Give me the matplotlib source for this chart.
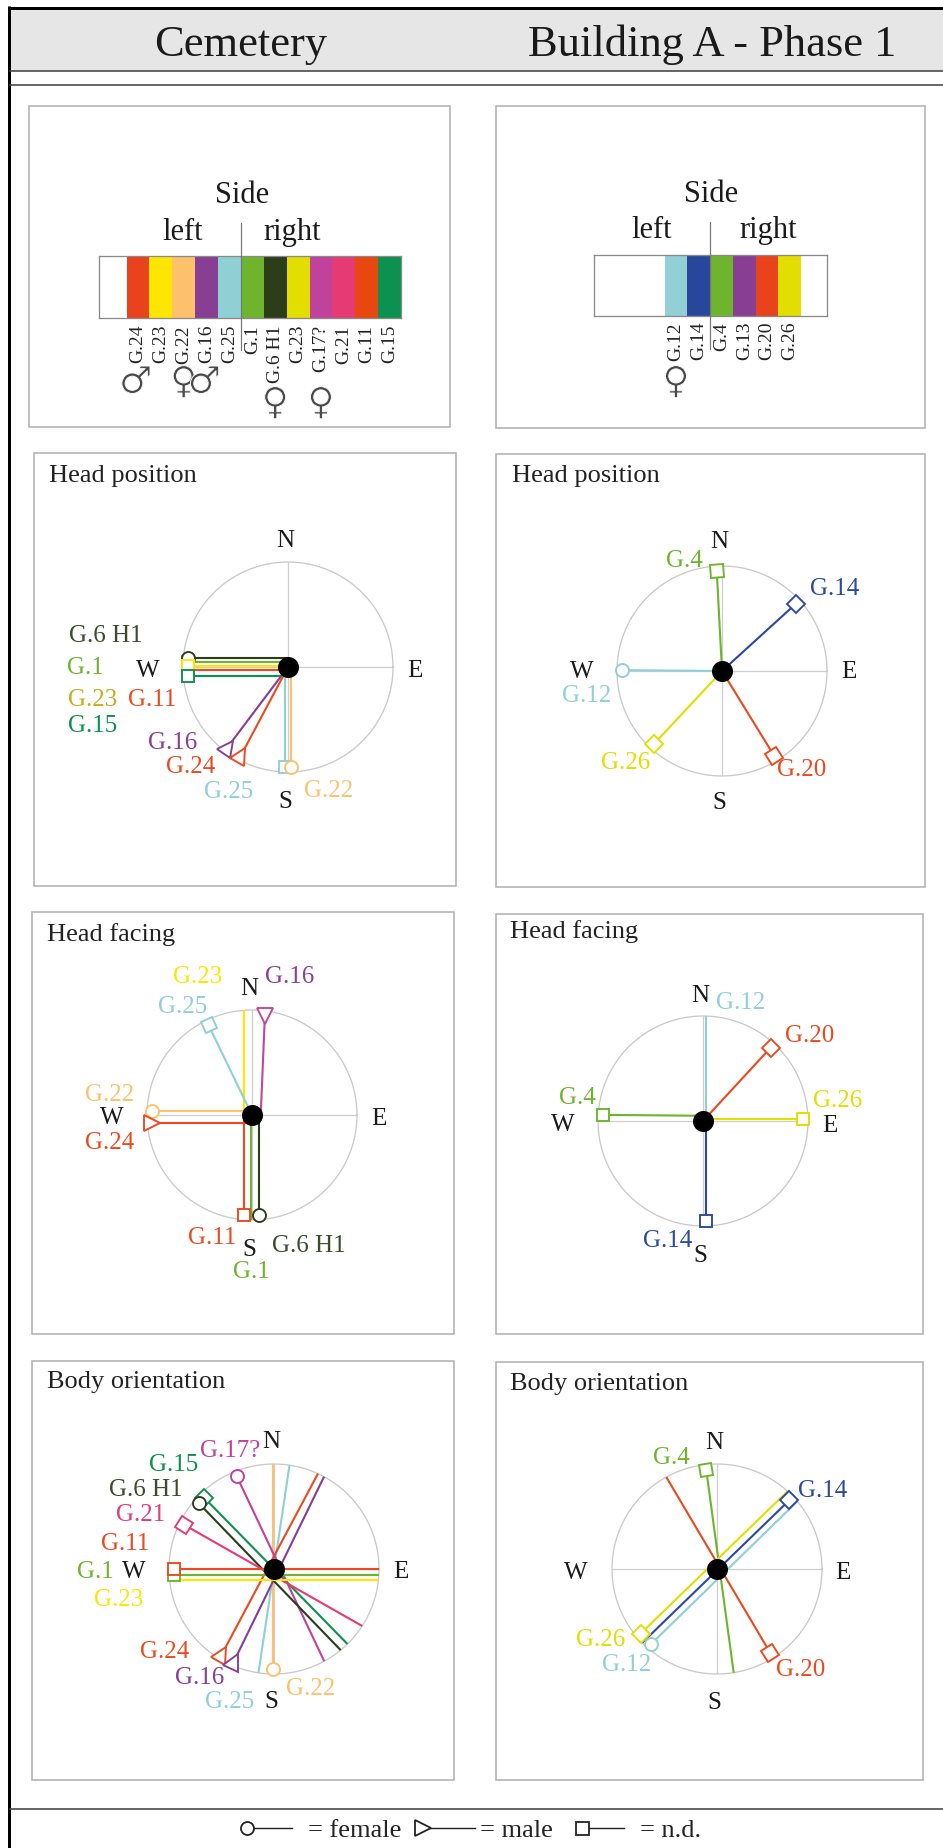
import numpy as np
import matplotlib
matplotlib.use("Agg")
import matplotlib.pyplot as plt
import matplotlib.patheffects as pe
from matplotlib.markers import MarkerStyle
from matplotlib.patches import Rectangle
from matplotlib.transforms import Affine2D

plt.rcParams['font.family'] = ['Liberation Serif', 'DejaVu Serif']

# ---------- data ----------
COLORS = {
    'G.1': '#6eb52d', 'G.4': '#6eb52d', 'G.6 H1': '#2c3d1a', 'G.11': '#ea4a1e',
    'G.12': '#8fd0d5', 'G.13': '#873e93', 'G.14': '#2b4a9e', 'G.15': '#0d9150',
    'G.16': '#873e93', 'G.17?': '#c0429a', 'G.20': '#ea4a1e', 'G.21': '#e63a75',
    'G.22': '#fdc16b', 'G.23': '#ffe600', 'G.24': '#ea4a1e', 'G.25': '#8fd0d5',
    'G.26': '#e1de00',
}
SEX = {'G.6 H1': 'f', 'G.22': 'f', 'G.17?': 'f', 'G.12': 'f', 'G.24': 'm', 'G.16': 'm'}

side_cem_graves = ['G.24', 'G.23', 'G.22', 'G.16', 'G.25', 'G.1', 'G.6 H1', 'G.23',
                   'G.17?', 'G.21', 'G.11', 'G.15']
side_cem_colors = ['#e8431c', '#ffe600', '#fdc16b', '#873e93', '#8fd0d5', '#6eb52d',
                   '#2c3d1a', '#e1de00', '#c0429a', '#e63a75', '#e8470f', '#0d9150']
side_bld_graves = ['G.12', 'G.14', 'G.4', 'G.13', 'G.20', 'G.26']
side_bld_colors = ['#93d0d5', '#28479c', '#6eb52d', '#873e93', '#e8431c', '#e1de00']

# bearing in degrees clockwise from north; lane = sideways shift in % of the radius
hp_cem_graves = ['G.1', 'G.11', 'G.6 H1', 'G.23', 'G.15', 'G.16', 'G.24', 'G.25', 'G.22']
hp_cem_bearing = [270, 270, 270, 270, 270, 217, 208, 180, 180]
hp_cem_lane = [4.4, -2.5, 8.3, 1.0, -8.3, 0, 0, 2.5, -3.2]
hp_cem_marked = [1, 1, 1, 1, 1, 1, 1, 1, 1]

hp_bld_graves = ['G.4', 'G.14', 'G.12', 'G.26', 'G.20']
hp_bld_bearing = [357, 47.7, 270.5, 223, 148.4]
hp_bld_lane = [0, 0, 0, 0, 0]
hp_bld_marked = [1, 1, 1, 1, 1]

hf_cem_graves = ['G.23', 'G.16', 'G.25', 'G.22', 'G.24', 'G.11', 'G.1', 'G.6 H1']
hf_cem_bearing = [0, 2.4, 334.2, 270, 270, 180, 180, 180]
hf_cem_lane = [-8, 8.3, 0, 4.2, -8, 8, 0.5, -7]
hf_cem_marked = [0, 1, 1, 1, 1, 1, 0, 1]

hf_bld_graves = ['G.12', 'G.20', 'G.26', 'G.4', 'G.14']
hf_bld_bearing = [0, 42.7, 90, 270.5, 180]
hf_bld_lane = [2.5, 0, -2, 5, -2.5]
hf_bld_marked = [0, 1, 1, 1, 1]

bo_cem_graves = ['G.22', 'G.25', 'G.24', 'G.16', 'G.17?', 'G.15', 'G.6 H1', 'G.21',
                 'G.1', 'G.23', 'G.11']
bo_cem_bearing = [180, 8.5, 208, 206, 334.7, 315.6, 316, 299.6, 270, 270, 270]
bo_cem_lane = [0.5, 0, 5.7, -4.3, 5.7, 0, -8, -5.7, -5.4, -10, 0]
bo_cem_marked = [1, 0, 1, 1, 1, 1, 1, 1, 1, 0, 1]

bo_bld_graves = ['G.4', 'G.20', 'G.14', 'G.26', 'G.12']
bo_bld_bearing = [352.3, 149.4, 45.9, 225.9, 225.7]
bo_bld_lane = [2.5, -3, 0.9, 6.4, -7.3]
bo_bld_marked = [1, 1, 1, 1, 1]

# ---------- layout ----------
W, H = 943, 1849
fig = plt.figure(figsize=(W / 100, H / 100), dpi=100, facecolor='white')
bg = fig.add_axes([0, 0, 1, 1])
bg.set_xlim(0, W)
bg.set_ylim(H, 0)
bg.axis('off')
PX = 0.72

bg.add_patch(Rectangle((9, 9), W - 9, 63, fc='#e6e6e6', ec='none'))
bg.plot([9, W], [8.5, 8.5], color='black', lw=3 * PX, solid_capstyle='butt')
bg.plot([9, 9], [7, H], color='black', lw=3 * PX, solid_capstyle='butt')
for y in (72, 86, 1810):
    bg.plot([10, W], [y, y], color='#454545', lw=1.6 * PX)

bg.text(241, 56, 'Cemetery', fontsize=32, ha='center', va='baseline', color='#1a1a1a')
bg.text(712, 56, 'Building A - Phase 1', fontsize=32, ha='center', va='baseline', color='#1a1a1a')

for x0, y0, x1, y1 in [(29, 107, 450, 428), (496, 107, 925, 429),
                       (34, 454, 456, 887), (496, 455, 925, 888),
                       (32, 913, 454, 1335), (496, 915, 923, 1335),
                       (32, 1362, 454, 1781), (496, 1363, 923, 1781)]:
    bg.add_patch(Rectangle((x0, y0), x1 - x0, y1 - y0, fc='none', ec='#b2b2b2', lw=1.6 * PX))


def strip(x0, x1, y0, y1, graves, colors, pad_left, pad_right, label_pad):
    ax = fig.add_axes([x0 / W, 1 - y1 / H, (x1 - x0) / W, (y1 - y0) / H])
    ax.bar(range(len(graves)), [1] * len(graves), width=1, color=colors, edgecolor='none')
    ax.set_xlim(-0.5 - pad_left, len(graves) - 0.5 + pad_right)
    ax.set_ylim(0, 1)
    ax.set_yticks([])
    ax.set_xticks(range(len(graves)), graves, rotation=90, fontsize=14, color='#222222')
    ax.tick_params(axis='x', length=0, pad=label_pad)
    for s in ax.spines.values():
        s.set_color('#8a8a8a')
        s.set_linewidth(1.3 * PX)
    return ax


def sex_symbols(ax, graves, y_top, y_long, y0, y1):
    thin = [pe.Normal(), pe.Stroke(linewidth=0.7, foreground='white')]
    for i, g in enumerate(graves):
        if g in SEX:
            yc = y_long if g in ('G.6 H1', 'G.17?') else y_top
            ax.text(i - 0.1 if SEX[g] == 'm' else i, (y1 - yc) / (y1 - y0),
                    '\u2642' if SEX[g] == 'm' else '\u2640',
                    transform=ax.get_xaxis_transform(), fontsize=27, ha='center',
                    va='center', family='DejaVu Sans', color='#4a4a4a', clip_on=False,
                    path_effects=thin)


a = strip(98.6, 401, 257, 319, side_cem_graves, side_cem_colors, 1.22, 0, 4.3)
sex_symbols(a, side_cem_graves, 384, 405, 257, 319)
a = strip(594, 827, 256, 317, side_bld_graves, side_bld_colors, 3.1, 1.13, 3.6)
sex_symbols(a, side_bld_graves, 384, 405, 256, 317)

for x, y0, y1 in [(240.5, 224, 351), (709.6, 223, 350)]:
    fig.add_artist(plt.Line2D([x / W, x / W], [1 - y0 / H, 1 - y1 / H], color='#777777', lw=1.2 * PX))

for t, x, y, sz in [('Side', 242, 203, 22), ('left', 182.5, 240, 22), ('right', 292, 240, 22),
                    ('Side', 711, 202, 22), ('left', 651.5, 238, 22), ('right', 768, 238, 22)]:
    bg.text(x, y, t, fontsize=sz, ha='center', va='baseline', color='#1a1a1a')


def marker_for(grave, bearing):
    sex = SEX.get(grave)
    if sex == 'f':
        return 'o', 13 * PX
    if sex == 'm':
        return MarkerStyle('>', transform=Affine2D().rotate_deg(270 - bearing)), 16 * PX
    return MarkerStyle('s', transform=Affine2D().rotate_deg(-bearing)), 12.5 * PX


def compass(cx, cy, graves, bearing, lane, marked, axial=False, recolor=None):
    R = 105
    ax = fig.add_axes([(cx - R) / W, 1 - (cy + R) / H, 2 * R / W, 2 * R / H])
    ax.set_xlim(-1, 1)
    ax.set_ylim(-1, 1)
    ax.axis('off')
    th = np.linspace(0, 2 * np.pi, 361)
    ax.plot(np.cos(th), np.sin(th), color='#c9c9c9', lw=1.3 * PX, clip_on=False, zorder=1)
    ax.plot([-1, 1], [0, 0], color='#cfcfcf', lw=1.3 * PX, zorder=1)
    ax.plot([0, 0], [-1, 1], color='#cfcfcf', lw=1.3 * PX, zorder=1)
    for g, b, l, m in zip(graves, bearing, lane, marked):
        col = (recolor or {}).get(g, COLORS[g])
        rad = np.radians(b)
        d = np.array([np.sin(rad), np.cos(rad)])
        p = np.array([np.cos(rad), -np.sin(rad)])
        off = l / 100
        edge = np.sqrt(1 - off ** 2)
        t_end = 0.95 if m else edge
        t_start = -edge if axial else 0
        a0 = off * p + t_start * d
        a1 = off * p + t_end * d
        ax.plot([a0[0], a1[0]], [a0[1], a1[1]], color=col, lw=2.1 * PX, clip_on=False,
                solid_capstyle='butt', zorder=2)
    for g, b, l, m in zip(graves, bearing, lane, marked):
        if m:
            col = (recolor or {}).get(g, COLORS[g])
            rad = np.radians(b)
            d = np.array([np.sin(rad), np.cos(rad)])
            p = np.array([np.cos(rad), -np.sin(rad)])
            q = l / 100 * p + 0.95 * d
            mk, ms = marker_for(g, b)
            ax.plot([q[0]], [q[1]], marker=mk, ms=ms, mfc='white', mec=col, mew=1.9 * PX,
                    ls='none', clip_on=False, zorder=3)
    ax.plot([0], [0], marker='o', ms=21 * PX, color='black', mew=0, clip_on=False, zorder=4)


compass(288, 668, hp_cem_graves, hp_cem_bearing, hp_cem_lane, hp_cem_marked)
compass(722, 672, hp_bld_graves, hp_bld_bearing, hp_bld_lane, hp_bld_marked)
compass(252, 1116, hf_cem_graves, hf_cem_bearing, hf_cem_lane, hf_cem_marked,
        recolor={'G.16': '#c0479b'})
compass(703, 1122, hf_bld_graves, hf_bld_bearing, hf_bld_lane, hf_bld_marked)
compass(274, 1570, bo_cem_graves, bo_cem_bearing, bo_cem_lane, bo_cem_marked, axial=True)
compass(717, 1570, bo_bld_graves, bo_bld_bearing, bo_bld_lane, bo_bld_marked, axial=True)

# text of the six compass panels: origin, title, labels (crop-scale coordinates)
BLACK = '#1a1a1a'
panels = [
    ((20, 450), 'Head position', (88, 95), [
        ('N', 797, 292), ('W', 383, 682), ('E', 1185, 682), ('S', 797, 1075),
        ('G.6 H1', 257, 575), ('G.1', 195, 672), ('G.23', 219, 768), ('G.11', 397, 768),
        ('G.15', 219, 845), ('G.16', 457, 897), ('G.24', 511, 970), ('G.25', 626, 1045),
        ('G.22', 927, 1040)]),
    ((490, 450), 'Head position', (66, 97), [
        ('N', 688, 295), ('W', 275, 685), ('E', 1077, 685), ('S', 688, 1078),
        ('G.4', 583, 352), ('G.14', 1034, 435), ('G.12', 291, 755), ('G.26', 407, 957),
        ('G.20', 934, 978)]),
    ((20, 910), 'Head facing', (80, 92), [
        ('N', 688, 255), ('W', 275, 643), ('E', 1077, 645), ('S', 688, 1037),
        ('G.23', 533, 220), ('G.16', 810, 220), ('G.25', 488, 310), ('G.22', 268, 573),
        ('G.24', 268, 718), ('G.11', 577, 1003), ('G.6 H1', 865, 1025), ('G.1', 695, 1105)]),
    ((490, 910), 'Head facing', (60, 83), [
        ('N', 632, 275), ('W', 217, 663), ('E', 1020, 665), ('S', 632, 1057),
        ('G.12', 752, 297), ('G.20', 960, 395), ('G.4', 263, 583), ('G.26', 1043, 590),
        ('G.14', 532, 1012)]),
    ((20, 1360), 'Body orientation', (80, 85), [
        ('N', 754, 265), ('W', 340, 655), ('E', 1142, 655), ('S', 755, 1045),
        ('G.17?', 631, 292), ('G.15', 460, 333), ('G.6 H1', 377, 408), ('G.21', 362, 483),
        ('G.11', 315, 570), ('G.1', 227, 655), ('G.23', 297, 738), ('G.24', 434, 893),
        ('G.16', 540, 973), ('G.25', 630, 1045), ('G.22', 873, 1005)]),
    ((490, 1360), 'Body orientation', (60, 90), [
        ('N', 672, 267), ('W', 258, 657), ('E', 1060, 657), ('S', 672, 1048),
        ('G.4', 543, 313), ('G.14', 998, 412), ('G.26', 333, 857), ('G.12', 410, 933),
        ('G.20', 932, 947)]),
]
for pi, ((ox, oy), title, (tx, ty), labels) in enumerate(panels):
    bg.text(ox + tx / 3, oy + ty / 3, title, fontsize=19, ha='left', va='baseline', color='#222222')
    for t, x, y in labels:
        if t in COLORS:
            col = COLORS[t]
            if pi == 0 and t == 'G.23':
                col = '#c4ad1e'
            if t == 'G.6 H1':
                col = '#3d4a2c'
            if t == 'G.16':
                col = '#8a3f96'
        else:
            col = BLACK
        bg.text(ox + x / 3, oy + y / 3, t, fontsize=18, ha='center', va='baseline', color=col)

# key
ky = 1829
KEY = '#222222'
for mk, mx, lx, tx, tt in [('o', 247, 292, 308, '= female'), ('>', 423, 475, 480, '= male'),
                           ('s', 582, 624, 640, '= n.d.')]:
    bg.plot([mx, lx], [ky, ky], color=KEY, lw=1.4 * PX, zorder=2)
    bg.plot([mx], [ky], marker=mk, ms=(16 if mk == '>' else 13) * PX, mfc='white', mec=KEY,
            mew=1.8 * PX, ls='none', zorder=3)
    bg.text(tx, 1837, tt, fontsize=19, ha='left', va='baseline', color=KEY)

fig.savefig('out.png', dpi=100, facecolor='white')
